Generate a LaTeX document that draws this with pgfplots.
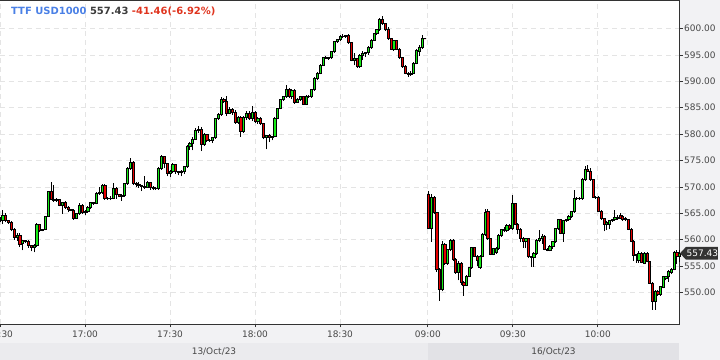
\documentclass[border=0pt]{standalone}
\usepackage{fontspec}
\setmainfont{DejaVu Sans}
\usepackage{pgfplots}
\usepackage{pgfplotstable}
\pgfplotsset{compat=1.18}
\definecolor{bgcol}{RGB}{242,242,244}
\definecolor{bandA}{RGB}{235,235,238}
\definecolor{bandB}{RGB}{226,226,230}
\definecolor{axcol}{RGB}{51,51,51}
\definecolor{gridcol}{RGB}{228,228,228}
\definecolor{candleup}{RGB}{20,235,20}
\definecolor{candledown}{RGB}{230,0,0}
\definecolor{ttfblue}{RGB}{74,128,230}
\definecolor{pricegrey}{RGB}{60,60,60}
\definecolor{chgred}{RGB}{224,52,30}
\definecolor{tagcol}{RGB}{51,51,51}

\pgfplotstableread{
x o h l c
0 563.8 564.3 563.3 564.0
1 563.6 565.7 562.9 564.7
2 564.7 565.0 563.3 563.6
3 563.6 563.8 563.0 563.3
4 563.3 563.5 561.6 561.9
5 561.9 562.2 560.0 560.4
6 560.4 561.3 559.8 560.8
7 560.8 561.3 558.6 559.2
8 559.4 560.0 558.0 559.8
9 559.8 560.0 559.3 559.6
10 559.6 559.9 558.5 558.9
11 558.9 559.0 557.8 558.5
12 558.5 559.1 557.6 558.9
13 558.9 563.1 558.7 562.9
14 562.9 563.0 561.5 561.8
15 561.8 562.0 561.6 561.9
16 561.9 564.5 561.8 564.4
17 564.4 569.3 564.3 569.1
18 569.1 571.0 567.5 567.7
19 567.7 570.3 567.2 567.5
20 567.5 567.9 567.2 567.6
21 567.6 567.8 566.3 566.5
22 566.5 567.2 564.9 567.1
23 567.1 567.3 565.9 566.2
24 566.2 566.3 565.2 565.7
25 565.7 565.9 565.4 565.6
26 565.6 565.8 563.8 564.1
27 564.1 565.0 563.9 564.9
28 564.9 566.9 564.7 566.5
29 566.5 566.8 564.9 565.2
30 565.2 565.6 564.6 565.3
31 565.3 566.3 565.1 566.1
32 566.1 567.2 565.8 567.0
33 567.0 567.2 566.6 566.9
34 566.9 569.0 566.7 568.7
35 568.7 569.9 568.5 568.9
36 568.9 570.6 568.7 570.3
37 570.3 570.5 567.6 567.9
38 567.9 568.1 567.6 567.8
39 567.8 568.3 567.5 567.9
40 567.9 570.7 567.7 569.8
41 569.8 570.0 567.8 568.5
42 568.5 568.7 568.0 568.3
43 568.3 568.6 567.4 568.4
44 568.4 570.8 568.1 570.6
45 570.6 573.7 570.4 573.5
46 573.5 575.5 573.3 574.6
47 574.6 575.0 570.4 570.6
48 570.6 570.9 570.0 570.5
49 570.5 571.0 569.8 570.3
50 570.3 570.4 569.2 570.1
51 570.1 572.0 569.7 570.0
52 570.0 571.1 569.9 570.8
53 570.8 571.0 569.5 570.0
54 570.0 570.1 569.4 569.8
55 569.8 570.0 569.5 569.7
56 569.7 573.8 569.5 573.6
57 573.6 576.1 573.3 575.7
58 575.7 575.9 573.5 574.4
59 574.4 574.6 572.0 572.5
60 572.5 573.2 571.8 572.9
61 572.9 574.5 572.6 574.2
62 574.2 574.4 572.5 572.9
63 572.9 573.1 572.2 572.7
64 572.7 573.2 572.0 572.9
65 572.9 574.0 572.5 573.8
66 573.8 577.9 573.6 577.6
67 577.6 578.5 577.0 578.2
68 578.2 579.5 576.9 579.1
69 579.1 581.2 578.9 580.7
70 580.7 581.5 580.2 580.9
71 580.9 581.3 576.8 578.0
72 578.0 580.3 577.8 579.9
73 579.9 580.0 578.5 578.8
74 578.8 579.1 578.6 578.9
75 578.9 579.5 578.3 579.3
76 579.3 583.1 579.1 582.9
77 582.9 584.0 582.7 583.7
78 583.7 587.0 583.5 586.6
79 586.6 586.8 585.9 586.2
80 586.2 587.3 583.4 584.0
81 584.0 585.2 583.8 584.6
82 584.6 584.9 583.7 584.2
83 584.2 584.5 582.0 582.3
84 582.3 583.5 582.0 583.2
85 583.2 583.4 579.5 580.5
86 580.5 583.5 580.2 583.2
87 583.2 584.4 582.7 584.0
88 584.0 584.3 582.7 583.0
89 583.0 585.3 582.5 584.2
90 584.2 584.4 582.2 582.5
91 582.5 583.2 582.0 583.0
92 583.0 583.2 581.8 582.0
93 582.0 582.2 579.0 579.3
94 579.3 579.9 577.1 579.8
95 579.8 580.0 578.5 579.3
96 579.3 579.7 578.8 579.6
97 579.6 583.2 579.4 583.0
98 583.0 585.0 582.8 584.9
99 584.9 586.6 584.7 586.5
100 586.5 587.2 586.3 587.1
101 587.1 589.3 586.9 588.5
102 588.5 588.7 586.9 587.1
103 587.1 588.6 586.6 588.3
104 588.3 588.5 585.8 586.1
105 586.1 586.8 585.9 586.6
106 586.6 587.3 586.3 587.1
107 587.1 587.3 585.5 585.7
108 585.7 587.4 585.5 587.2
109 587.2 587.4 586.9 587.1
110 587.1 588.6 586.9 588.4
111 588.4 590.8 588.2 590.6
112 590.6 591.8 590.2 591.6
113 591.6 593.3 591.3 593.1
114 593.1 594.7 592.9 594.5
115 594.5 594.8 594.2 594.3
116 594.3 594.7 594.1 594.5
117 594.5 595.8 594.3 595.6
118 595.6 597.7 595.4 597.5
119 597.5 598.1 597.3 597.9
120 597.9 598.8 597.7 598.6
121 598.6 598.9 598.3 598.5
122 598.5 598.8 598.3 598.7
123 598.7 598.9 597.1 597.3
124 597.3 597.5 593.8 594.0
125 594.0 595.3 593.0 594.3
126 594.3 594.5 592.6 592.8
127 592.8 595.2 592.6 595.0
128 595.0 595.8 594.0 595.2
129 595.2 595.6 594.6 595.4
130 595.4 596.6 595.0 596.4
131 596.4 598.0 596.2 597.8
132 597.8 599.2 597.6 599.0
133 599.0 600.0 598.8 599.8
134 599.8 601.9 599.6 601.7
135 601.7 602.4 600.7 600.9
136 600.9 601.1 599.6 599.8
137 599.8 600.2 597.9 598.1
138 598.1 598.3 595.9 596.1
139 596.1 597.9 595.8 597.7
140 597.7 597.9 595.9 596.1
141 596.1 596.3 594.3 594.5
142 594.5 594.6 592.6 592.8
143 592.8 593.0 591.3 591.5
144 591.5 591.8 590.8 591.3
145 591.3 591.9 591.1 591.6
146 591.6 593.6 591.4 593.4
147 593.4 596.1 593.2 595.9
148 595.6 596.8 594.8 596.4
149 596.4 598.8 596.2 598.1
150 598.1 598.2 598.0 598.1
}\dayone

\pgfplotstableread{
x o h l c
151.3 568.5 569.2 562.0 562.1
152.3 562.1 568.7 559.6 568.1
153.2 568.1 568.3 564.9 565.1
154.2 565.1 565.3 553.9 554.4
155.1 554.4 554.6 548.4 550.6
156.1 550.6 559.8 550.2 559.1
157.0 559.1 559.3 555.2 555.5
158.0 555.5 558.3 555.3 558.1
158.9 558.1 560.1 557.8 559.9
159.9 559.9 560.1 556.0 556.3
160.8 556.3 556.5 553.6 553.8
161.8 553.8 555.9 552.3 555.6
162.7 555.6 555.8 551.5 551.9
163.7 551.9 552.1 549.4 551.4
164.6 551.4 553.3 551.2 553.1
165.6 553.1 554.9 552.9 554.7
166.5 554.7 558.7 554.5 558.5
167.5 558.5 558.7 556.7 556.9
168.4 556.9 557.1 555.0 556.1
169.4 554.8 557.1 554.5 556.9
170.3 556.9 561.2 556.7 561.0
171.3 561.0 565.8 560.8 565.1
172.2 565.3 565.9 560.0 560.2
173.2 560.2 560.4 557.1 557.3
174.1 557.3 558.5 557.1 558.3
175.1 557.6 558.6 557.3 558.4
176.0 558.3 561.0 558.1 560.8
177.0 560.8 562.1 560.6 561.9
177.9 561.9 562.5 561.4 561.7
178.9 561.7 563.0 561.5 562.7
179.9 562.7 563.0 561.9 562.1
180.8 562.1 568.5 561.9 566.8
181.8 566.8 567.0 562.7 562.9
182.7 562.9 563.1 561.0 562.0
183.7 562.0 562.2 559.5 560.3
184.6 560.3 560.5 558.5 559.6
185.6 559.6 560.4 558.4 560.2
186.5 560.2 560.4 556.6 556.8
187.5 556.8 557.0 554.9 556.6
188.4 556.6 557.6 554.9 557.4
189.4 557.4 560.1 557.2 559.9
190.3 559.9 561.9 559.5 560.3
191.3 560.3 561.0 559.2 560.7
192.2 560.7 560.9 558.0 558.2
193.2 558.2 558.4 557.8 558.0
194.1 558.0 559.0 557.8 558.8
195.1 558.8 559.8 558.3 559.6
196.0 559.6 562.3 559.4 562.1
197.0 562.1 564.0 561.9 563.8
197.9 563.8 564.0 561.0 561.2
198.9 561.2 563.8 559.6 563.6
199.8 563.6 564.0 563.4 563.8
200.8 563.8 564.6 563.6 564.4
201.7 564.4 565.5 564.2 565.3
202.7 565.3 569.5 565.1 567.8
203.6 567.8 568.0 567.6 567.9
204.6 567.9 568.1 567.6 567.8
205.5 567.8 571.6 567.6 571.4
206.5 571.4 573.9 571.2 573.4
207.4 573.4 574.1 572.8 573.0
208.4 573.0 573.5 571.2 571.4
209.3 571.4 571.5 567.9 568.1
210.3 568.1 568.3 567.8 568.0
211.2 568.0 568.2 565.2 565.4
212.2 565.4 565.6 563.8 564.0
213.2 564.0 564.2 561.6 563.0
214.1 563.0 563.5 561.8 563.3
215.1 563.0 563.8 562.0 563.6
216.0 563.6 564.0 563.4 563.8
217.0 563.8 565.6 563.6 564.3
217.9 564.3 564.6 563.8 564.1
218.9 564.7 565.0 564.0 564.1
219.8 564.4 564.6 563.6 563.8
220.8 564.1 564.3 563.6 563.8
221.7 563.8 564.0 561.8 562.0
222.7 562.0 562.2 559.5 559.7
223.6 559.7 559.9 556.0 557.1
224.6 557.2 557.3 555.6 557.1
225.5 556.1 557.8 555.6 557.5
226.5 557.5 557.6 555.5 555.7
227.4 555.6 557.6 555.4 557.5
228.4 557.5 557.7 555.7 555.9
229.3 555.9 556.0 551.6 551.8
230.3 551.8 552.0 546.7 548.3
231.2 548.3 550.4 546.7 550.2
232.2 550.2 550.4 549.4 549.6
233.1 549.6 551.3 549.4 551.1
234.1 551.0 553.2 550.8 553.0
235.0 552.7 553.2 552.3 553.0
236.0 553.0 554.2 552.0 554.0
236.9 553.8 554.6 553.5 554.4
237.9 554.4 557.9 554.2 557.6
238.9 557.6 558.1 555.4 556.8
239.8 556.9 558.0 555.8 557.4
}\daytwo

\pgfplotsset{
  candles/.style={
    only marks, scatter, mark=*, mark size=0pt,
    visualization depends on={\thisrow{h}-\thisrow{o} \as \dH},
    visualization depends on={\thisrow{l}-\thisrow{o} \as \dL},
    visualization depends on={\thisrow{c}-\thisrow{o} \as \dC},
    scatter/@pre marker code/.code={%
      \pgfmathsetmacro\cdH{\dH*5.28}%
      \pgfmathsetmacro\cdL{\dL*5.28}%
      \pgfmathsetmacro\cdC{\dC*5.28}%
      \ifdim\cdC pt>0pt \def\ccol{candleup}\else\def\ccol{candledown}\fi
      \draw[black,line width=0.9bp] (0bp,\cdL bp) -- (0bp,\cdH bp);
      \filldraw[fill=\ccol,draw=black,line width=0.75bp] (-1.1bp,0bp) rectangle (1.1bp,\cdC bp);
    },
    scatter/@post marker code/.code={},
  }
}

\begin{document}
\begin{tikzpicture}
\fill[bgcol] (0bp,0bp) rectangle (720bp,360bp);
\fill[bandA] (0bp,0bp) rectangle (428bp,16.5bp);
\fill[bandB] (428bp,0bp) rectangle (679bp,16.5bp);
\node[font=\fontsize{9}{10}\selectfont, text=axcol!90] at (214bp,8.5bp) {13/Oct/23};
\node[font=\fontsize{9}{10}\selectfont, text=axcol!90] at (553.5bp,8.5bp) {16/Oct/23};
\begin{axis}[
  at={(0bp,36bp)}, anchor=south west,
  x=2.8333bp, y=5.28bp,
  xmin=0, xmax=240, ymin=544.04, ymax=605.4,
  clip mode=individual,
  axis background/.style={fill=white},
  axis line style={axcol, line width=1bp},
  xtick={0,30,60,90,120,151,181,211},
  xticklabels={16:30,17:00,17:30,18:00,18:30,09:00,09:30,10:00},
  ytick={550,555,560,565,570,575,580,585,590,595,600},
  yticklabels={550.00,555.00,560.00,565.00,570.00,575.00,580.00,585.00,590.00,595.00,600.00},
  xtick pos=bottom, ytick pos=right, yticklabel pos=right,
  tick align=outside, major tick length=3bp,
  tick style={axcol, line width=0.8bp},
  tick label style={font=\fontsize{9}{10}\selectfont, text=axcol!90},
  yticklabel style={anchor=west, inner sep=1bp},
  grid=major,
  major grid style={gridcol, dash pattern=on 5bp off 4bp, line width=0.8bp},
]
\addplot[candles] table[x=x, y=o] {\dayone};
\addplot[candles] table[x=x, y=o] {\daytwo};
\fill[tagcol] (axis cs:240,557.43) -- ++(6bp,6.4bp) -- ++(32bp,0bp) -- ++(0bp,-12.8bp) -- ++(-32bp,0bp) -- cycle;
\node[anchor=west, text=white, inner sep=0pt, font=\fontsize{9}{10}\selectfont] at ([xshift=6.5bp]axis cs:240,557.43) {557.43};
\end{axis}
\node[anchor=base west, inner sep=0pt, font=\fontsize{10}{12}\selectfont\bfseries] at (11bp,345bp)
  {\textcolor{ttfblue}{TTF USD1000} \textcolor{pricegrey}{557.43} \textcolor{chgred}{-41.46(-6.92\%)}};
\pgfresetboundingbox
\path[use as bounding box] (0bp,0bp) rectangle (720bp,360bp);
\end{tikzpicture}
\end{document}
